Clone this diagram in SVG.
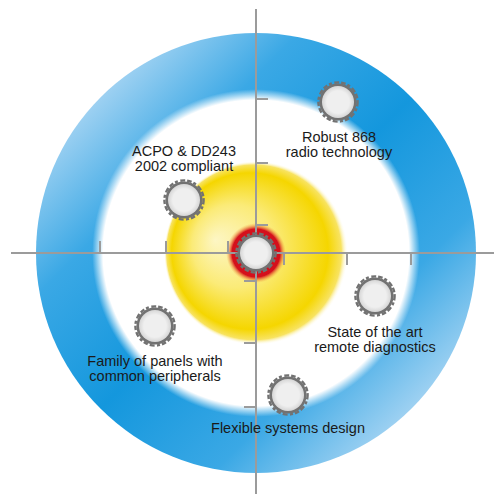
<svg xmlns="http://www.w3.org/2000/svg" width="494" height="495" viewBox="0 0 494 495">
<defs>
<linearGradient id="blue" x1="36" y1="33" x2="476" y2="473" gradientUnits="userSpaceOnUse">
<stop offset="0" stop-color="#c5e3f7"/>
<stop offset="0.13" stop-color="#a8d5f3"/>
<stop offset="0.3" stop-color="#3aa8e5"/>
<stop offset="0.5" stop-color="#1497dd"/>
<stop offset="0.7" stop-color="#3aa8e5"/>
<stop offset="0.87" stop-color="#a8d5f3"/>
<stop offset="1" stop-color="#c5e3f7"/>
</linearGradient>
<radialGradient id="fade" cx="256" cy="253" r="180" gradientUnits="userSpaceOnUse">
<stop offset="0.85" stop-color="#fff" stop-opacity="1"/>
<stop offset="0.91" stop-color="#fff" stop-opacity="0"/>
</radialGradient>
<radialGradient id="yellow" cx="256" cy="253" r="92" fx="215" fy="240" gradientUnits="userSpaceOnUse">
<stop offset="0" stop-color="#fdf6c4"/>
<stop offset="0.45" stop-color="#fbeb78"/>
<stop offset="0.85" stop-color="#f5d600"/>
<stop offset="0.95" stop-color="#f8e360"/>
<stop offset="1" stop-color="#fff" stop-opacity="0"/>
</radialGradient>
<radialGradient id="red" cx="256" cy="253" r="30" gradientUnits="userSpaceOnUse">
<stop offset="0.6" stop-color="#d4101c"/>
<stop offset="0.8" stop-color="#d4101c"/>
<stop offset="1" stop-color="#f5b040" stop-opacity="0"/>
</radialGradient>
<radialGradient id="face">
<stop offset="0.7" stop-color="#efefef"/>
<stop offset="1" stop-color="#d6d6d6"/>
</radialGradient>
<g id="gear">
<circle r="19.6" fill="none" stroke="#727272" stroke-width="2.4" stroke-dasharray="4.5 2 3 2.5 5 2"/>
<circle r="18.6" fill="#727272"/>
<circle r="16" fill="url(#face)"/>
</g>
<style>
.ax{stroke:#9b9b9b;stroke-width:2;fill:none}
.lbl{font-family:"Liberation Sans",Arial,sans-serif;font-size:14.5px;fill:#1a1a1a;text-anchor:middle}
</style>
</defs>
<rect width="494" height="495" fill="#fff"/>
<g id="rings">
<circle cx="256" cy="253" r="220" fill="url(#blue)"/>
<circle cx="256" cy="253" r="180" fill="url(#fade)"/>
<circle cx="256" cy="253" r="92" fill="url(#yellow)"/>
<circle cx="256" cy="253" r="30" fill="url(#red)"/>
</g>
<g id="connectors">
<line class="ax" x1="11" y1="253" x2="494" y2="253"/>
<line class="ax" x1="256" y1="9" x2="256" y2="494"/>
<path class="ax" d="M256 99H268M256 163H268M256 343H244M256 407H244M100 253V241M166 253V241M347 253V265M411 253V265M256 225H268M228 253V241M284 253V265M256 281H244"/>
</g>
<g id="center"><use href="#gear" x="256" y="253"/></g>
<g id="robust"><use href="#gear" x="338" y="102"/>
<text class="lbl" x="339" y="142">Robust 868</text>
<text class="lbl" x="339" y="157">radio technology</text></g>
<g id="acpo"><use href="#gear" x="184" y="200"/>
<text class="lbl" x="184" y="156">ACPO &amp; DD243</text>
<text class="lbl" x="184" y="171">2002 compliant</text></g>
<g id="state"><use href="#gear" x="375" y="296"/>
<text class="lbl" x="375" y="337">State of the art</text>
<text class="lbl" x="375" y="352">remote diagnostics</text></g>
<g id="family"><use href="#gear" x="155" y="326"/>
<text class="lbl" x="155" y="366">Family of panels with</text>
<text class="lbl" x="155" y="381">common peripherals</text></g>
<g id="flexible"><use href="#gear" x="288" y="395"/>
<text class="lbl" x="288" y="433">Flexible systems design</text></g>
</svg>
